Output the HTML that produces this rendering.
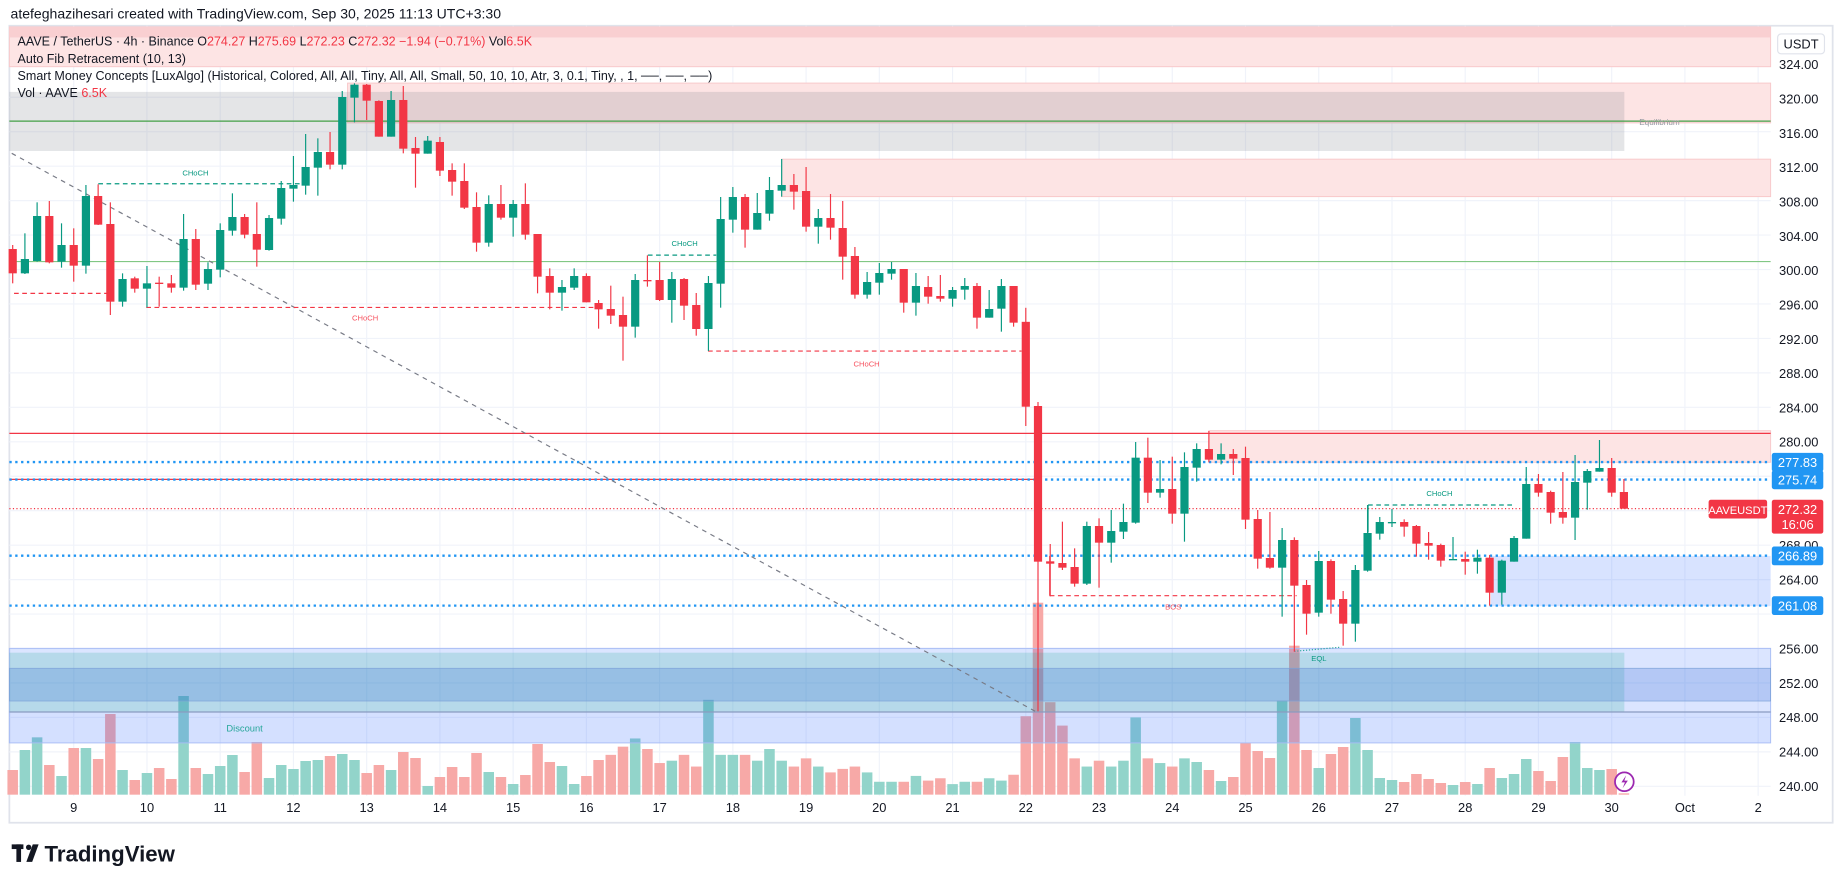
<!DOCTYPE html>
<html><head><meta charset="utf-8"><style>
html,body{margin:0;padding:0;background:#fff;}
svg{display:block;font-family:"Liberation Sans",sans-serif;}
.r line{stroke:#f23645;stroke-width:1}.r rect{fill:#f23645}
.g line{stroke:#089981;stroke-width:1}.g rect{fill:#089981}
.vr{fill:#f7a9a7}.vg{fill:#92d4ca}
</style></head><body>
<svg width="1835" height="883" viewBox="0 0 1568 754.5" preserveAspectRatio="none" xmlns="http://www.w3.org/2000/svg">
<rect x="0" y="0" width="1568" height="754.5" fill="#ffffff"/>
<text x="9" y="16" font-size="12" fill="#131722">atefeghazihesari created with TradingView.com, Sep 30, 2025 11:13 UTC+3:30</text>
<rect x="8" y="22" width="1558" height="681" fill="none" stroke="#e0e3eb" stroke-width="1.5"/>
<g stroke="#f0f3fa" stroke-width="1">
<line x1="8" y1="53.66" x2="1513" y2="53.66"/><line x1="8" y1="83.1" x2="1513" y2="83.1"/><line x1="8" y1="112.54" x2="1513" y2="112.54"/><line x1="8" y1="141.98" x2="1513" y2="141.98"/><line x1="8" y1="171.42" x2="1513" y2="171.42"/><line x1="8" y1="200.86" x2="1513" y2="200.86"/><line x1="8" y1="230.3" x2="1513" y2="230.3"/><line x1="8" y1="259.74" x2="1513" y2="259.74"/><line x1="8" y1="289.18" x2="1513" y2="289.18"/><line x1="8" y1="318.62" x2="1513" y2="318.62"/><line x1="8" y1="348.06" x2="1513" y2="348.06"/><line x1="8" y1="377.5" x2="1513" y2="377.5"/><line x1="8" y1="406.94" x2="1513" y2="406.94"/><line x1="8" y1="436.38" x2="1513" y2="436.38"/><line x1="8" y1="465.82" x2="1513" y2="465.82"/><line x1="8" y1="495.26" x2="1513" y2="495.26"/><line x1="8" y1="524.7" x2="1513" y2="524.7"/><line x1="8" y1="554.14" x2="1513" y2="554.14"/><line x1="8" y1="583.58" x2="1513" y2="583.58"/><line x1="8" y1="613.02" x2="1513" y2="613.02"/><line x1="8" y1="642.46" x2="1513" y2="642.46"/><line x1="8" y1="671.9" x2="1513" y2="671.9"/>
<line x1="63" y1="22" x2="63" y2="680"/><line x1="125.58" y1="22" x2="125.58" y2="680"/><line x1="188.16" y1="22" x2="188.16" y2="680"/><line x1="250.74" y1="22" x2="250.74" y2="680"/><line x1="313.32" y1="22" x2="313.32" y2="680"/><line x1="375.9" y1="22" x2="375.9" y2="680"/><line x1="438.48" y1="22" x2="438.48" y2="680"/><line x1="501.06" y1="22" x2="501.06" y2="680"/><line x1="563.64" y1="22" x2="563.64" y2="680"/><line x1="626.22" y1="22" x2="626.22" y2="680"/><line x1="688.8" y1="22" x2="688.8" y2="680"/><line x1="751.38" y1="22" x2="751.38" y2="680"/><line x1="813.96" y1="22" x2="813.96" y2="680"/><line x1="876.54" y1="22" x2="876.54" y2="680"/><line x1="939.12" y1="22" x2="939.12" y2="680"/><line x1="1001.7" y1="22" x2="1001.7" y2="680"/><line x1="1064.28" y1="22" x2="1064.28" y2="680"/><line x1="1126.86" y1="22" x2="1126.86" y2="680"/><line x1="1189.44" y1="22" x2="1189.44" y2="680"/><line x1="1252.02" y1="22" x2="1252.02" y2="680"/><line x1="1314.6" y1="22" x2="1314.6" y2="680"/><line x1="1377.18" y1="22" x2="1377.18" y2="680"/><line x1="1439.76" y1="22" x2="1439.76" y2="680"/><line x1="1502.34" y1="22" x2="1502.34" y2="680"/>
</g>
<rect x="8" y="23" width="1505" height="34" fill="#fde4e4" stroke="#f8c7c9" stroke-width="0.8"/>
<rect x="8" y="23" width="1505" height="9" fill="#f9cfd1"/>
<rect x="297" y="71" width="1216" height="34" fill="#fde4e4" stroke="#f8c7c9" stroke-width="0.8"/>
<rect x="8" y="78.5" width="1380" height="50.5" fill="rgba(120,123,134,0.2)"/>
<rect x="668" y="136" width="845" height="32" fill="#fde4e4" stroke="#f8c7c9" stroke-width="0.8"/>
<line x1="8" y1="103.5" x2="1513" y2="103.5" stroke="#43a047" stroke-width="1"/>
<line x1="8" y1="223.5" x2="1513" y2="223.5" stroke="#81c784" stroke-width="1"/>
<text x="1418" y="107" font-size="7" fill="#9598a1" text-anchor="middle">Equilibrium</text>
<!-- volume -->
<g>
<g transform="translate(10.85,538.32) scale(1,.28483)"><rect class="vr" x="-4.5" y="420" width="9" height="74"/></g>
<g transform="translate(21.28,538.32) scale(1,.28483)"><rect class="vg" x="-4.5" y="360" width="9" height="134"/></g>
<g transform="translate(31.71,538.32) scale(1,.28483)"><rect class="vg" x="-4.5" y="322" width="9" height="172"/></g>
<g transform="translate(42.14,538.32) scale(1,.28483)"><rect class="vr" x="-4.5" y="405" width="9" height="89"/></g>
<g transform="translate(52.57,538.32) scale(1,.28483)"><rect class="vg" x="-4.5" y="438" width="9" height="56"/></g>
<g transform="translate(63,538.32) scale(1,.28483)"><rect class="vr" x="-4.5" y="354" width="9" height="140"/></g>
<g transform="translate(73.43,538.32) scale(1,.28483)"><rect class="vg" x="-4.5" y="354" width="9" height="140"/></g>
<g transform="translate(83.86,538.32) scale(1,.28483)"><rect class="vr" x="-4.5" y="387" width="9" height="107"/></g>
<g transform="translate(94.29,538.32) scale(1,.28483)"><rect class="vr" x="-4.5" y="252" width="9" height="242"/></g>
<g transform="translate(104.72,538.32) scale(1,.28483)"><rect class="vg" x="-4.5" y="420" width="9" height="74"/></g>
<g transform="translate(115.15,538.32) scale(1,.28483)"><rect class="vr" x="-4.5" y="450" width="9" height="44"/></g>
<g transform="translate(125.58,538.32) scale(1,.28483)"><rect class="vg" x="-4.5" y="429" width="9" height="65"/></g>
<g transform="translate(136.01,538.32) scale(1,.28483)"><rect class="vr" x="-4.5" y="414" width="9" height="80"/></g>
<g transform="translate(146.44,538.32) scale(1,.28483)"><rect class="vr" x="-4.5" y="447" width="9" height="47"/></g>
<g transform="translate(156.87,538.32) scale(1,.28483)"><rect class="vg" x="-4.5" y="198" width="9" height="296"/></g>
<g transform="translate(167.3,538.32) scale(1,.28483)"><rect class="vr" x="-4.5" y="414" width="9" height="80"/></g>
<g transform="translate(177.73,538.32) scale(1,.28483)"><rect class="vg" x="-4.5" y="432" width="9" height="62"/></g>
<g transform="translate(188.16,538.32) scale(1,.28483)"><rect class="vg" x="-4.5" y="408" width="9" height="86"/></g>
<g transform="translate(198.59,538.32) scale(1,.28483)"><rect class="vg" x="-4.5" y="375" width="9" height="119"/></g>
<g transform="translate(209.02,538.32) scale(1,.28483)"><rect class="vr" x="-4.5" y="426" width="9" height="68"/></g>
<g transform="translate(219.45,538.32) scale(1,.28483)"><rect class="vr" x="-4.5" y="336" width="9" height="158"/></g>
<g transform="translate(229.88,538.32) scale(1,.28483)"><rect class="vg" x="-4.5" y="444" width="9" height="50"/></g>
<g transform="translate(240.31,538.32) scale(1,.28483)"><rect class="vg" x="-4.5" y="405" width="9" height="89"/></g>
<g transform="translate(250.74,538.32) scale(1,.28483)"><rect class="vg" x="-4.5" y="417" width="9" height="77"/></g>
<g transform="translate(261.17,538.32) scale(1,.28483)"><rect class="vg" x="-4.5" y="393" width="9" height="101"/></g>
<g transform="translate(271.6,538.32) scale(1,.28483)"><rect class="vg" x="-4.5" y="390" width="9" height="104"/></g>
<g transform="translate(282.03,538.32) scale(1,.28483)"><rect class="vr" x="-4.5" y="378" width="9" height="116"/></g>
<g transform="translate(292.46,538.32) scale(1,.28483)"><rect class="vg" x="-4.5" y="372" width="9" height="122"/></g>
<g transform="translate(302.89,538.32) scale(1,.28483)"><rect class="vg" x="-4.5" y="390" width="9" height="104"/></g>
<g transform="translate(313.32,538.32) scale(1,.28483)"><rect class="vr" x="-4.5" y="429" width="9" height="65"/></g>
<g transform="translate(323.75,538.32) scale(1,.28483)"><rect class="vr" x="-4.5" y="405" width="9" height="89"/></g>
<g transform="translate(334.18,538.32) scale(1,.28483)"><rect class="vg" x="-4.5" y="420" width="9" height="74"/></g>
<g transform="translate(344.61,538.32) scale(1,.28483)"><rect class="vr" x="-4.5" y="366" width="9" height="128"/></g>
<g transform="translate(355.04,538.32) scale(1,.28483)"><rect class="vr" x="-4.5" y="384" width="9" height="110"/></g>
<g transform="translate(365.47,538.32) scale(1,.28483)"><rect class="vg" x="-4.5" y="468" width="9" height="26"/></g>
<g transform="translate(375.9,538.32) scale(1,.28483)"><rect class="vr" x="-4.5" y="441" width="9" height="53"/></g>
<g transform="translate(386.33,538.32) scale(1,.28483)"><rect class="vr" x="-4.5" y="411" width="9" height="83"/></g>
<g transform="translate(396.76,538.32) scale(1,.28483)"><rect class="vr" x="-4.5" y="441" width="9" height="53"/></g>
<g transform="translate(407.19,538.32) scale(1,.28483)"><rect class="vr" x="-4.5" y="369" width="9" height="125"/></g>
<g transform="translate(417.62,538.32) scale(1,.28483)"><rect class="vg" x="-4.5" y="426" width="9" height="68"/></g>
<g transform="translate(428.05,538.32) scale(1,.28483)"><rect class="vr" x="-4.5" y="441" width="9" height="53"/></g>
<g transform="translate(438.48,538.32) scale(1,.28483)"><rect class="vg" x="-4.5" y="462" width="9" height="32"/></g>
<g transform="translate(448.91,538.32) scale(1,.28483)"><rect class="vr" x="-4.5" y="435" width="9" height="59"/></g>
<g transform="translate(459.34,538.32) scale(1,.28483)"><rect class="vr" x="-4.5" y="342" width="9" height="152"/></g>
<g transform="translate(469.77,538.32) scale(1,.28483)"><rect class="vr" x="-4.5" y="396" width="9" height="98"/></g>
<g transform="translate(480.2,538.32) scale(1,.28483)"><rect class="vg" x="-4.5" y="408" width="9" height="86"/></g>
<g transform="translate(490.63,538.32) scale(1,.28483)"><rect class="vg" x="-4.5" y="462" width="9" height="32"/></g>
<g transform="translate(501.06,538.32) scale(1,.28483)"><rect class="vr" x="-4.5" y="438" width="9" height="56"/></g>
<g transform="translate(511.49,538.32) scale(1,.28483)"><rect class="vr" x="-4.5" y="390" width="9" height="104"/></g>
<rect class="vr" x="517.42" y="645" width="9" height="34"/>
<rect class="vr" x="527.85" y="638" width="9" height="41"/>
<rect class="vg" x="538.28" y="631" width="9" height="48"/>
<rect class="vr" x="548.71" y="640" width="9" height="39"/>
<rect class="vr" x="559.14" y="652" width="9" height="27"/>
<rect class="vg" x="569.57" y="650" width="9" height="29"/>
<rect class="vr" x="580" y="645" width="9" height="34"/>
<rect class="vr" x="590.43" y="655" width="9" height="24"/>
<rect class="vg" x="600.86" y="598" width="9" height="81"/>
<rect class="vg" x="611.29" y="645" width="9" height="34"/>
<rect class="vg" x="621.72" y="645" width="9" height="34"/>
<rect class="vr" x="632.15" y="645" width="9" height="34"/>
<rect class="vg" x="642.58" y="650" width="9" height="29"/>
<rect class="vg" x="653.01" y="640" width="9" height="39"/>
<rect class="vg" x="663.44" y="650" width="9" height="29"/>
<rect class="vr" x="673.87" y="655" width="9" height="24"/>
<rect class="vr" x="684.3" y="648" width="9" height="31"/>
<rect class="vg" x="694.73" y="655" width="9" height="24"/>
<rect class="vr" x="705.16" y="660" width="9" height="19"/>
<rect class="vr" x="715.59" y="657" width="9" height="22"/>
<rect class="vr" x="726.02" y="655" width="9" height="24"/>
<rect class="vg" x="736.45" y="660" width="9" height="19"/>
<rect class="vg" x="746.88" y="668" width="9" height="11"/>
<rect class="vg" x="757.31" y="668" width="9" height="11"/>
<rect class="vr" x="767.74" y="668" width="9" height="11"/>
<rect class="vg" x="778.17" y="663" width="9" height="16"/>
<rect class="vr" x="788.6" y="667" width="9" height="12"/>
<rect class="vr" x="799.03" y="665" width="9" height="14"/>
<rect class="vg" x="809.46" y="670" width="9" height="9"/>
<rect class="vg" x="819.89" y="668" width="9" height="11"/>
<rect class="vr" x="830.32" y="668" width="9" height="11"/>
<rect class="vg" x="840.75" y="665" width="9" height="14"/>
<rect class="vg" x="851.18" y="667" width="9" height="12"/>
<rect class="vr" x="861.61" y="662" width="9" height="17"/>
<rect class="vr" x="872.04" y="612" width="9" height="67"/>
<rect class="vr" x="882.47" y="515" width="9" height="164"/>
<rect class="vr" x="892.9" y="600" width="9" height="79"/>
<rect class="vr" x="903.33" y="620" width="9" height="59"/>
<rect class="vr" x="913.76" y="648" width="9" height="31"/>
<rect class="vg" x="924.19" y="655" width="9" height="24"/>
<rect class="vr" x="934.62" y="650" width="9" height="29"/>
<rect class="vg" x="945.05" y="655" width="9" height="24"/>
<rect class="vg" x="955.48" y="650" width="9" height="29"/>
<rect class="vg" x="965.91" y="613" width="9" height="66"/>
<rect class="vr" x="976.34" y="648" width="9" height="31"/>
<rect class="vg" x="986.77" y="652" width="9" height="27"/>
<rect class="vr" x="997.2" y="655" width="9" height="24"/>
<rect class="vg" x="1007.63" y="648" width="9" height="31"/>
<g transform="translate(1022.56,538.32) scale(1,.28483)"><rect class="vg" x="-4.5" y="396" width="9" height="98"/></g>
<g transform="translate(1032.99,538.32) scale(1,.28483)"><rect class="vr" x="-4.5" y="420" width="9" height="74"/></g>
<g transform="translate(1043.42,538.32) scale(1,.28483)"><rect class="vg" x="-4.5" y="453" width="9" height="41"/></g>
<g transform="translate(1053.85,538.32) scale(1,.28483)"><rect class="vr" x="-4.5" y="441" width="9" height="53"/></g>
<g transform="translate(1064.28,538.32) scale(1,.28483)"><rect class="vr" x="-4.5" y="338" width="9" height="156"/></g>
<g transform="translate(1074.71,538.32) scale(1,.28483)"><rect class="vr" x="-4.5" y="363" width="9" height="131"/></g>
<g transform="translate(1085.14,538.32) scale(1,.28483)"><rect class="vr" x="-4.5" y="384" width="9" height="110"/></g>
<g transform="translate(1095.57,538.32) scale(1,.28483)"><rect class="vg" x="-4.5" y="212" width="9" height="282"/></g>
<g transform="translate(1106,538.32) scale(1,.28483)"><rect class="vr" x="-4.5" y="47" width="9" height="447"/></g>
<g transform="translate(1116.43,538.32) scale(1,.28483)"><rect class="vr" x="-4.5" y="360" width="9" height="134"/></g>
<g transform="translate(1126.86,538.32) scale(1,.28483)"><rect class="vg" x="-4.5" y="414" width="9" height="80"/></g>
<g transform="translate(1137.29,538.32) scale(1,.28483)"><rect class="vr" x="-4.5" y="372" width="9" height="122"/></g>
<g transform="translate(1147.72,538.32) scale(1,.28483)"><rect class="vr" x="-4.5" y="351" width="9" height="143"/></g>
<g transform="translate(1158.15,538.32) scale(1,.28483)"><rect class="vg" x="-4.5" y="264" width="9" height="230"/></g>
<g transform="translate(1168.58,538.32) scale(1,.28483)"><rect class="vg" x="-4.5" y="360" width="9" height="134"/></g>
<g transform="translate(1179.01,538.32) scale(1,.28483)"><rect class="vg" x="-4.5" y="444" width="9" height="50"/></g>
<g transform="translate(1189.44,538.32) scale(1,.28483)"><rect class="vg" x="-4.5" y="450" width="9" height="44"/></g>
<g transform="translate(1199.87,538.32) scale(1,.28483)"><rect class="vr" x="-4.5" y="456" width="9" height="38"/></g>
<g transform="translate(1210.3,538.32) scale(1,.28483)"><rect class="vr" x="-4.5" y="432" width="9" height="62"/></g>
<g transform="translate(1220.73,538.32) scale(1,.28483)"><rect class="vr" x="-4.5" y="447" width="9" height="47"/></g>
<g transform="translate(1231.16,538.32) scale(1,.28483)"><rect class="vr" x="-4.5" y="459" width="9" height="35"/></g>
<g transform="translate(1241.59,538.32) scale(1,.28483)"><rect class="vg" x="-4.5" y="465" width="9" height="29"/></g>
<g transform="translate(1252.02,538.32) scale(1,.28483)"><rect class="vr" x="-4.5" y="456" width="9" height="38"/></g>
<g transform="translate(1262.45,538.32) scale(1,.28483)"><rect class="vg" x="-4.5" y="462" width="9" height="32"/></g>
<g transform="translate(1272.88,538.32) scale(1,.28483)"><rect class="vr" x="-4.5" y="414" width="9" height="80"/></g>
<g transform="translate(1283.31,538.32) scale(1,.28483)"><rect class="vg" x="-4.5" y="444" width="9" height="50"/></g>
<g transform="translate(1293.74,538.32) scale(1,.28483)"><rect class="vg" x="-4.5" y="432" width="9" height="62"/></g>
<g transform="translate(1304.17,538.32) scale(1,.28483)"><rect class="vg" x="-4.5" y="387" width="9" height="107"/></g>
<g transform="translate(1314.6,538.32) scale(1,.28483)"><rect class="vr" x="-4.5" y="423" width="9" height="71"/></g>
<g transform="translate(1325.03,538.32) scale(1,.28483)"><rect class="vr" x="-4.5" y="453" width="9" height="41"/></g>
<g transform="translate(1335.46,538.32) scale(1,.28483)"><rect class="vr" x="-4.5" y="381" width="9" height="113"/></g>
<g transform="translate(1345.89,538.32) scale(1,.28483)"><rect class="vg" x="-4.5" y="336" width="9" height="158"/></g>
<g transform="translate(1356.32,538.32) scale(1,.28483)"><rect class="vg" x="-4.5" y="414" width="9" height="80"/></g>
<g transform="translate(1366.75,538.32) scale(1,.28483)"><rect class="vg" x="-4.5" y="420" width="9" height="74"/></g>
<g transform="translate(1377.18,538.32) scale(1,.28483)"><rect class="vr" x="-4.5" y="417" width="9" height="77"/></g>
<g transform="translate(1387.61,538.32) scale(1,.28483)"><rect class="vr" x="-4.5" y="490" width="9" height="4"/></g>
</g>
<!-- bottom zones -->
<rect x="8" y="554" width="1505" height="54.4" fill="rgba(41,98,255,0.17)" stroke="#a8bdf5" stroke-width="0.8"/>
<rect x="8" y="557.7" width="1380" height="50.7" fill="rgba(34,171,148,0.2)"/>
<rect x="8" y="571" width="1505" height="28" fill="rgba(41,98,210,0.22)" stroke="#7ea3d8" stroke-width="0.6"/>
<rect x="8" y="608.4" width="1505" height="26.4" fill="rgba(41,98,255,0.2)" stroke="#a8bdf5" stroke-width="0.8"/>
<line x1="8" y1="608.4" x2="1513" y2="608.4" stroke="#8a9bc0" stroke-width="1"/>
<text x="209" y="625" font-size="8" fill="#26a69a" text-anchor="middle">Discount</text>
<rect x="1033" y="368" width="480" height="27" fill="#fde4e4" stroke="#f8c7c9" stroke-width="0.8"/>
<line x1="8" y1="370.3" x2="1513" y2="370.3" stroke="#f23645" stroke-width="1"/>
<line x1="8" y1="409.6" x2="890" y2="409.6" stroke="#f23645" stroke-width="1"/>
<rect x="1274" y="475" width="239" height="43" fill="rgba(41,98,255,0.18)"/>
<g stroke="#2196f3" stroke-width="2" stroke-dasharray="2 3">
<line x1="8" y1="394.8" x2="1513" y2="394.8"/>
<line x1="8" y1="409.8" x2="1513" y2="409.8"/>
<line x1="8" y1="474.8" x2="1513" y2="474.8"/>
<line x1="8" y1="517.5" x2="1513" y2="517.5"/>
</g>
<line x1="8" y1="434.6" x2="1460" y2="434.6" stroke="#f23645" stroke-width="1" stroke-dasharray="1 2"/>
<line x1="10" y1="131" x2="885" y2="608" stroke="#787b86" stroke-width="1" stroke-dasharray="4 4"/>
<g fill="none" stroke-width="1" stroke-dasharray="4 3">
<polyline points="84,157 257,157" stroke="#089981"/>
<polyline points="12,250.7 91,250.7" stroke="#f23645"/>
<polyline points="125,262.7 510,262.7" stroke="#f23645"/>
<polyline points="553.6,218 612,218" stroke="#089981"/>
<polyline points="605,300 873,300" stroke="#f23645"/>
<polyline points="897,509 1108,509" stroke="#f23645"/>
<polyline points="1169,431.5 1295,431.5" stroke="#089981"/>
<polyline points="1106,556.5 1146,553" stroke="#26a69a" stroke-dasharray="1 1.5"/>
</g>
<g font-size="6.5" text-anchor="middle">
<text x="167" y="150" fill="#089981">CHoCH</text>
<text x="312" y="274" fill="#f7525f">CHoCH</text>
<text x="585" y="210" fill="#089981">CHoCH</text>
<text x="740.5" y="313" fill="#f7525f">CHoCH</text>
<text x="1002.5" y="521" fill="#f7525f">BOS</text>
<text x="1230" y="424" fill="#089981">CHoCH</text>
<text x="1127" y="565" fill="#089981">EQL</text>
</g>
<!-- candles -->
<g>
<g class="r" transform="translate(10.85,59.81) scale(1,.28483)"><line y1="525" y2="640"/><rect x="-3.5" y="537" width="7" height="73"/></g>
<g class="g" transform="translate(21.28,59.81) scale(1,.28483)"><line y1="490" y2="612"/><rect x="-3.5" y="567" width="7" height="43"/></g>
<g class="g" transform="translate(31.71,59.81) scale(1,.28483)"><line y1="397" y2="575"/><rect x="-3.5" y="438" width="7" height="135"/></g>
<g class="r" transform="translate(42.14,59.81) scale(1,.28483)"><line y1="393" y2="580"/><rect x="-3.5" y="438" width="7" height="139"/></g>
<g class="g" transform="translate(52.57,59.81) scale(1,.28483)"><line y1="460" y2="593"/><rect x="-3.5" y="525" width="7" height="50"/></g>
<g class="r" transform="translate(63,59.81) scale(1,.28483)"><line y1="475" y2="635"/><rect x="-3.5" y="525" width="7" height="62"/></g>
<g class="g" transform="translate(73.43,59.81) scale(1,.28483)"><line y1="345" y2="611"/><rect x="-3.5" y="378" width="7" height="209"/></g>
<g class="r" transform="translate(83.86,59.81) scale(1,.28483)"><line y1="343" y2="465"/><rect x="-3.5" y="378" width="7" height="86"/></g>
<g class="r" transform="translate(94.29,59.81) scale(1,.28483)"><line y1="397" y2="735"/><rect x="-3.5" y="462" width="7" height="233"/></g>
<g class="g" transform="translate(104.72,59.81) scale(1,.28483)"><line y1="610" y2="710"/><rect x="-3.5" y="627" width="7" height="68"/></g>
<g class="r" transform="translate(115.15,59.81) scale(1,.28483)"><line y1="620" y2="668"/><rect x="-3.5" y="625" width="7" height="31"/></g>
<g class="g" transform="translate(125.58,59.81) scale(1,.28483)"><line y1="588" y2="712"/><rect x="-3.5" y="640" width="7" height="16"/></g>
<g class="r" transform="translate(136.01,59.81) scale(1,.28483)"><line y1="620" y2="710"/><rect x="-3.5" y="638" width="7" height="4"/></g>
<g class="r" transform="translate(146.44,59.81) scale(1,.28483)"><line y1="615" y2="668"/><rect x="-3.5" y="640" width="7" height="13"/></g>
<g class="g" transform="translate(156.87,59.81) scale(1,.28483)"><line y1="432" y2="662"/><rect x="-3.5" y="507" width="7" height="146"/></g>
<g class="r" transform="translate(167.3,59.81) scale(1,.28483)"><line y1="477" y2="660"/><rect x="-3.5" y="507" width="7" height="137"/></g>
<g class="g" transform="translate(177.73,59.81) scale(1,.28483)"><line y1="577" y2="660"/><rect x="-3.5" y="597" width="7" height="44"/></g>
<g class="g" transform="translate(188.16,59.81) scale(1,.28483)"><line y1="460" y2="622"/><rect x="-3.5" y="480" width="7" height="119"/></g>
<g class="g" transform="translate(198.59,59.81) scale(1,.28483)"><line y1="370" y2="497"/><rect x="-3.5" y="441" width="7" height="41"/></g>
<g class="r" transform="translate(209.02,59.81) scale(1,.28483)"><line y1="432" y2="505"/><rect x="-3.5" y="441" width="7" height="53"/></g>
<g class="r" transform="translate(219.45,59.81) scale(1,.28483)"><line y1="397" y2="590"/><rect x="-3.5" y="492" width="7" height="47"/></g>
<g class="g" transform="translate(229.88,59.81) scale(1,.28483)"><line y1="435" y2="542"/><rect x="-3.5" y="444" width="7" height="96"/></g>
<g class="g" transform="translate(240.31,59.81) scale(1,.28483)"><line y1="333" y2="464"/><rect x="-3.5" y="354" width="7" height="92"/></g>
<g class="g" transform="translate(250.74,59.81) scale(1,.28483)"><line y1="258" y2="395"/><rect x="-3.5" y="345" width="7" height="11"/></g>
<g class="g" transform="translate(261.17,59.81) scale(1,.28483)"><line y1="192" y2="374"/><rect x="-3.5" y="291" width="7" height="56"/></g>
<g class="g" transform="translate(271.6,59.81) scale(1,.28483)"><line y1="205" y2="377"/><rect x="-3.5" y="246" width="7" height="47"/></g>
<g class="r" transform="translate(282.03,59.81) scale(1,.28483)"><line y1="186" y2="298"/><rect x="-3.5" y="246" width="7" height="38"/></g>
<g class="g" transform="translate(292.46,59.81) scale(1,.28483)"><line y1="63" y2="298"/><rect x="-3.5" y="81" width="7" height="203"/></g>
<g class="g" transform="translate(302.89,59.81) scale(1,.28483)"><line y1="40" y2="157"/><rect x="-3.5" y="44" width="7" height="39"/></g>
<g class="r" transform="translate(313.32,59.81) scale(1,.28483)"><line y1="42" y2="150"/><rect x="-3.5" y="44" width="7" height="48"/></g>
<g class="r" transform="translate(323.75,59.81) scale(1,.28483)"><line y1="91" y2="200"/><rect x="-3.5" y="93" width="7" height="107"/></g>
<g class="g" transform="translate(334.18,59.81) scale(1,.28483)"><line y1="63" y2="200"/><rect x="-3.5" y="90" width="7" height="110"/></g>
<g class="r" transform="translate(344.61,59.81) scale(1,.28483)"><line y1="48" y2="250"/><rect x="-3.5" y="90" width="7" height="146"/></g>
<g class="r" transform="translate(355.04,59.81) scale(1,.28483)"><line y1="201" y2="353"/><rect x="-3.5" y="234" width="7" height="17"/></g>
<g class="g" transform="translate(365.47,59.81) scale(1,.28483)"><line y1="198" y2="251"/><rect x="-3.5" y="212" width="7" height="39"/></g>
<g class="r" transform="translate(375.9,59.81) scale(1,.28483)"><line y1="201" y2="318"/><rect x="-3.5" y="216" width="7" height="86"/></g>
<g class="r" transform="translate(386.33,59.81) scale(1,.28483)"><line y1="280" y2="377"/><rect x="-3.5" y="300" width="7" height="35"/></g>
<g class="r" transform="translate(396.76,59.81) scale(1,.28483)"><line y1="280" y2="417"/><rect x="-3.5" y="333" width="7" height="80"/></g>
<g class="r" transform="translate(407.19,59.81) scale(1,.28483)"><line y1="367" y2="545"/><rect x="-3.5" y="411" width="7" height="107"/></g>
<g class="g" transform="translate(417.62,59.81) scale(1,.28483)"><line y1="376" y2="530"/><rect x="-3.5" y="402" width="7" height="116"/></g>
<g class="r" transform="translate(428.05,59.81) scale(1,.28483)"><line y1="345" y2="449"/><rect x="-3.5" y="402" width="7" height="41"/></g>
<g class="g" transform="translate(438.48,59.81) scale(1,.28483)"><line y1="390" y2="500"/><rect x="-3.5" y="402" width="7" height="41"/></g>
<g class="r" transform="translate(448.91,59.81) scale(1,.28483)"><line y1="340" y2="509"/><rect x="-3.5" y="402" width="7" height="92"/></g>
<g class="r" transform="translate(459.34,59.81) scale(1,.28483)"><line y1="492" y2="670"/><rect x="-3.5" y="492" width="7" height="128"/></g>
<g class="r" transform="translate(469.77,59.81) scale(1,.28483)"><line y1="595" y2="718"/><rect x="-3.5" y="618" width="7" height="50"/></g>
<g class="g" transform="translate(480.2,59.81) scale(1,.28483)"><line y1="630" y2="722"/><rect x="-3.5" y="651" width="7" height="17"/></g>
<g class="g" transform="translate(490.63,59.81) scale(1,.28483)"><line y1="595" y2="660"/><rect x="-3.5" y="618" width="7" height="35"/></g>
<g class="r" transform="translate(501.06,59.81) scale(1,.28483)"><line y1="610" y2="697"/><rect x="-3.5" y="618" width="7" height="79"/></g>
<g class="r" transform="translate(511.49,59.81) scale(1,.28483)"><line y1="690" y2="776"/><rect x="-3.5" y="699" width="7" height="19"/></g>
<g class="r" transform="translate(521.92,111.08) scale(1,.28483)"><line y1="467" y2="582"/><rect x="-3.5" y="537" width="7" height="20"/></g>
<g class="r" transform="translate(532.35,111.08) scale(1,.28483)"><line y1="500" y2="692"/><rect x="-3.5" y="555" width="7" height="35"/></g>
<g class="g" transform="translate(542.78,111.08) scale(1,.28483)"><line y1="432" y2="623"/><rect x="-3.5" y="450" width="7" height="140"/></g>
<g class="r" transform="translate(553.21,111.08) scale(1,.28483)"><line y1="376" y2="470"/><rect x="-3.5" y="450" width="7" height="4"/></g>
<g class="r" transform="translate(563.64,111.08) scale(1,.28483)"><line y1="396" y2="513"/><rect x="-3.5" y="450" width="7" height="60"/></g>
<g class="g" transform="translate(574.07,111.08) scale(1,.28483)"><line y1="426" y2="578"/><rect x="-3.5" y="447" width="7" height="63"/></g>
<g class="r" transform="translate(584.5,111.08) scale(1,.28483)"><line y1="444" y2="570"/><rect x="-3.5" y="447" width="7" height="80"/></g>
<g class="r" transform="translate(594.93,111.08) scale(1,.28483)"><line y1="489" y2="617"/><rect x="-3.5" y="525" width="7" height="72"/></g>
<g class="g" transform="translate(605.36,111.08) scale(1,.28483)"><line y1="438" y2="663"/><rect x="-3.5" y="459" width="7" height="138"/></g>
<g class="g" transform="translate(615.79,111.08) scale(1,.28483)"><line y1="201" y2="533"/><rect x="-3.5" y="267" width="7" height="194"/></g>
<g class="g" transform="translate(626.22,111.08) scale(1,.28483)"><line y1="171" y2="308"/><rect x="-3.5" y="201" width="7" height="68"/></g>
<g class="r" transform="translate(636.65,111.08) scale(1,.28483)"><line y1="192" y2="353"/><rect x="-3.5" y="201" width="7" height="98"/></g>
<g class="g" transform="translate(647.08,111.08) scale(1,.28483)"><line y1="189" y2="299"/><rect x="-3.5" y="249" width="7" height="50"/></g>
<g class="g" transform="translate(657.51,111.08) scale(1,.28483)"><line y1="141" y2="272"/><rect x="-3.5" y="180" width="7" height="71"/></g>
<g class="g" transform="translate(667.94,111.08) scale(1,.28483)"><line y1="87" y2="200"/><rect x="-3.5" y="165" width="7" height="17"/></g>
<g class="r" transform="translate(678.37,111.08) scale(1,.28483)"><line y1="132" y2="239"/><rect x="-3.5" y="165" width="7" height="20"/></g>
<g class="r" transform="translate(688.8,111.08) scale(1,.28483)"><line y1="111" y2="305"/><rect x="-3.5" y="183" width="7" height="107"/></g>
<g class="g" transform="translate(699.23,111.08) scale(1,.28483)"><line y1="237" y2="341"/><rect x="-3.5" y="264" width="7" height="26"/></g>
<g class="r" transform="translate(709.66,111.08) scale(1,.28483)"><line y1="192" y2="329"/><rect x="-3.5" y="264" width="7" height="29"/></g>
<g class="r" transform="translate(720.09,111.08) scale(1,.28483)"><line y1="213" y2="449"/><rect x="-3.5" y="294" width="7" height="86"/></g>
<g class="r" transform="translate(730.52,111.08) scale(1,.28483)"><line y1="351" y2="506"/><rect x="-3.5" y="378" width="7" height="116"/></g>
<g class="g" transform="translate(740.95,111.08) scale(1,.28483)"><line y1="426" y2="506"/><rect x="-3.5" y="456" width="7" height="38"/></g>
<g class="g" transform="translate(751.38,111.08) scale(1,.28483)"><line y1="399" y2="494"/><rect x="-3.5" y="429" width="7" height="29"/></g>
<g class="g" transform="translate(761.81,111.08) scale(1,.28483)"><line y1="396" y2="449"/><rect x="-3.5" y="417" width="7" height="14"/></g>
<g class="r" transform="translate(772.24,111.08) scale(1,.28483)"><line y1="417" y2="548"/><rect x="-3.5" y="417" width="7" height="101"/></g>
<g class="g" transform="translate(782.67,111.08) scale(1,.28483)"><line y1="429" y2="557"/><rect x="-3.5" y="468" width="7" height="50"/></g>
<g class="r" transform="translate(793.1,111.08) scale(1,.28483)"><line y1="438" y2="521"/><rect x="-3.5" y="471" width="7" height="29"/></g>
<g class="r" transform="translate(803.53,111.08) scale(1,.28483)"><line y1="435" y2="515"/><rect x="-3.5" y="498" width="7" height="8"/></g>
<g class="g" transform="translate(813.96,111.08) scale(1,.28483)"><line y1="471" y2="530"/><rect x="-3.5" y="480" width="7" height="26"/></g>
<g class="g" transform="translate(824.39,111.08) scale(1,.28483)"><line y1="444" y2="509"/><rect x="-3.5" y="468" width="7" height="11"/></g>
<g class="r" transform="translate(834.82,111.08) scale(1,.28483)"><line y1="459" y2="596"/><rect x="-3.5" y="468" width="7" height="95"/></g>
<g class="g" transform="translate(845.25,111.08) scale(1,.28483)"><line y1="480" y2="563"/><rect x="-3.5" y="537" width="7" height="26"/></g>
<g class="g" transform="translate(855.68,111.08) scale(1,.28483)"><line y1="447" y2="605"/><rect x="-3.5" y="468" width="7" height="68"/></g>
<g class="r" transform="translate(866.11,111.08) scale(1,.28483)"><line y1="468" y2="590"/><rect x="-3.5" y="468" width="7" height="110"/></g>
<g class="r" transform="translate(876.54,0)"><line y1="263" y2="364"/><rect x="-3.5" y="275" width="7" height="72.5"/></g>
<g class="r" transform="translate(886.97,273.43) scale(1,.28483)"><line y1="246" y2="1174"/><rect x="-3.5" y="258" width="7" height="467"/></g>
<g class="r" transform="translate(897.4,273.43) scale(1,.28483)"><line y1="672" y2="829"/><rect x="-3.5" y="724" width="7" height="7"/></g>
<g class="r" transform="translate(907.83,273.43) scale(1,.28483)"><line y1="605" y2="750"/><rect x="-3.5" y="729" width="7" height="14"/></g>
<g class="r" transform="translate(918.26,273.43) scale(1,.28483)"><line y1="685" y2="800"/><rect x="-3.5" y="741" width="7" height="50"/></g>
<g class="g" transform="translate(928.69,273.43) scale(1,.28483)"><line y1="605" y2="795"/><rect x="-3.5" y="618" width="7" height="173"/></g>
<g class="r" transform="translate(939.12,273.43) scale(1,.28483)"><line y1="595" y2="803"/><rect x="-3.5" y="618" width="7" height="50"/></g>
<g class="g" transform="translate(949.55,273.43) scale(1,.28483)"><line y1="570" y2="728"/><rect x="-3.5" y="633" width="7" height="35"/></g>
<g class="g" transform="translate(959.98,273.43) scale(1,.28483)"><line y1="551" y2="657"/><rect x="-3.5" y="606" width="7" height="29"/></g>
<g class="g" transform="translate(970.41,273.43) scale(1,.28483)"><line y1="366" y2="611"/><rect x="-3.5" y="413" width="7" height="195"/></g>
<g class="r" transform="translate(980.84,273.43) scale(1,.28483)"><line y1="353" y2="549"/><rect x="-3.5" y="413" width="7" height="105"/></g>
<g class="g" transform="translate(991.27,273.43) scale(1,.28483)"><line y1="420" y2="533"/><rect x="-3.5" y="507" width="7" height="11"/></g>
<g class="r" transform="translate(1001.7,273.43) scale(1,.28483)"><line y1="410" y2="611"/><rect x="-3.5" y="507" width="7" height="74"/></g>
<g class="g" transform="translate(1012.13,273.43) scale(1,.28483)"><line y1="397" y2="665"/><rect x="-3.5" y="441" width="7" height="140"/></g>
<g class="g" transform="translate(1022.56,273.43) scale(1,.28483)"><line y1="370" y2="485"/><rect x="-3.5" y="387" width="7" height="56"/></g>
<g class="r" transform="translate(1032.99,273.43) scale(1,.28483)"><line y1="333" y2="427"/><rect x="-3.5" y="387" width="7" height="32"/></g>
<g class="g" transform="translate(1043.42,273.43) scale(1,.28483)"><line y1="370" y2="433"/><rect x="-3.5" y="402" width="7" height="17"/></g>
<g class="r" transform="translate(1053.85,273.43) scale(1,.28483)"><line y1="387" y2="465"/><rect x="-3.5" y="402" width="7" height="14"/></g>
<g class="r" transform="translate(1064.28,273.43) scale(1,.28483)"><line y1="380" y2="627"/><rect x="-3.5" y="414" width="7" height="185"/></g>
<g class="r" transform="translate(1074.71,273.43) scale(1,.28483)"><line y1="570" y2="746"/><rect x="-3.5" y="597" width="7" height="119"/></g>
<g class="r" transform="translate(1085.14,273.43) scale(1,.28483)"><line y1="576" y2="746"/><rect x="-3.5" y="714" width="7" height="29"/></g>
<g class="g" transform="translate(1095.57,273.43) scale(1,.28483)"><line y1="624" y2="890"/><rect x="-3.5" y="660" width="7" height="83"/></g>
<g class="r" transform="translate(1106,273.43) scale(1,.28483)"><line y1="652" y2="995"/><rect x="-3.5" y="660" width="7" height="137"/></g>
<g class="r" transform="translate(1116.43,273.43) scale(1,.28483)"><line y1="780" y2="944"/><rect x="-3.5" y="795" width="7" height="86"/></g>
<g class="g" transform="translate(1126.86,273.43) scale(1,.28483)"><line y1="693" y2="890"/><rect x="-3.5" y="723" width="7" height="155"/></g>
<g class="r" transform="translate(1137.29,273.43) scale(1,.28483)"><line y1="718" y2="881"/><rect x="-3.5" y="723" width="7" height="116"/></g>
<g class="r" transform="translate(1147.72,273.43) scale(1,.28483)"><line y1="813" y2="977"/><rect x="-3.5" y="837" width="7" height="74"/></g>
<g class="g" transform="translate(1158.15,273.43) scale(1,.28483)"><line y1="735" y2="965"/><rect x="-3.5" y="750" width="7" height="161"/></g>
<g class="g" transform="translate(1168.58,273.43) scale(1,.28483)"><line y1="555" y2="755"/><rect x="-3.5" y="639" width="7" height="113"/></g>
<g class="g" transform="translate(1179.01,273.43) scale(1,.28483)"><line y1="591" y2="659"/><rect x="-3.5" y="606" width="7" height="35"/></g>
<g class="g" transform="translate(1189.44,273.43) scale(1,.28483)"><line y1="567" y2="621"/><rect x="-3.5" y="606" width="7" height="4"/></g>
<g class="r" transform="translate(1199.87,273.43) scale(1,.28483)"><line y1="598" y2="650"/><rect x="-3.5" y="606" width="7" height="14"/></g>
<g class="r" transform="translate(1210.3,273.43) scale(1,.28483)"><line y1="615" y2="710"/><rect x="-3.5" y="618" width="7" height="53"/></g>
<g class="r" transform="translate(1220.73,273.43) scale(1,.28483)"><line y1="636" y2="719"/><rect x="-3.5" y="669" width="7" height="8"/></g>
<g class="r" transform="translate(1231.16,273.43) scale(1,.28483)"><line y1="671" y2="740"/><rect x="-3.5" y="675" width="7" height="47"/></g>
<g class="g" transform="translate(1241.59,273.43) scale(1,.28483)"><line y1="651" y2="719"/><rect x="-3.5" y="717" width="7" height="4"/></g>
<g class="r" transform="translate(1252.02,273.43) scale(1,.28483)"><line y1="695" y2="764"/><rect x="-3.5" y="717" width="7" height="8"/></g>
<g class="g" transform="translate(1262.45,273.43) scale(1,.28483)"><line y1="689" y2="761"/><rect x="-3.5" y="713" width="7" height="12"/></g>
<g class="r" transform="translate(1272.88,273.43) scale(1,.28483)"><line y1="705" y2="857"/><rect x="-3.5" y="713" width="7" height="105"/></g>
<g class="g" transform="translate(1283.31,273.43) scale(1,.28483)"><line y1="719" y2="854"/><rect x="-3.5" y="722" width="7" height="96"/></g>
<g class="g" transform="translate(1293.74,273.43) scale(1,.28483)"><line y1="648" y2="725"/><rect x="-3.5" y="654" width="7" height="71"/></g>
<g class="g" transform="translate(1304.17,273.43) scale(1,.28483)"><line y1="441" y2="656"/><rect x="-3.5" y="492" width="7" height="164"/></g>
<g class="r" transform="translate(1314.6,273.43) scale(1,.28483)"><line y1="462" y2="530"/><rect x="-3.5" y="492" width="7" height="26"/></g>
<g class="r" transform="translate(1325.03,273.43) scale(1,.28483)"><line y1="512" y2="611"/><rect x="-3.5" y="516" width="7" height="62"/></g>
<g class="r" transform="translate(1335.46,273.43) scale(1,.28483)"><line y1="456" y2="611"/><rect x="-3.5" y="576" width="7" height="17"/></g>
<g class="g" transform="translate(1345.89,273.43) scale(1,.28483)"><line y1="405" y2="660"/><rect x="-3.5" y="486" width="7" height="107"/></g>
<g class="g" transform="translate(1356.32,273.43) scale(1,.28483)"><line y1="447" y2="569"/><rect x="-3.5" y="453" width="7" height="35"/></g>
<g class="g" transform="translate(1366.75,273.43) scale(1,.28483)"><line y1="360" y2="455"/><rect x="-3.5" y="444" width="7" height="11"/></g>
<g class="r" transform="translate(1377.18,273.43) scale(1,.28483)"><line y1="414" y2="530"/><rect x="-3.5" y="444" width="7" height="74"/></g>
<g class="r" transform="translate(1387.61,273.43) scale(1,.28483)"><line y1="477" y2="566"/><rect x="-3.5" y="516" width="7" height="50"/></g>
</g>
<line x1="897" y1="475" x2="897" y2="509" stroke="#f23645" stroke-width="1"/>
<line x1="1169" y1="431.5" x2="1169" y2="455" stroke="#089981" stroke-width="1"/>
<!-- legend -->
<g font-size="10.7" fill="#131722">
<text x="15" y="39">AAVE / TetherUS · 4h · Binance  O<tspan fill="#f23645">274.27</tspan>  H<tspan fill="#f23645">275.69</tspan>  L<tspan fill="#f23645">272.23</tspan>  C<tspan fill="#f23645">272.32</tspan>  <tspan fill="#f23645">−1.94 (−0.71%)</tspan>  Vol<tspan fill="#f23645">6.5K</tspan></text>
<text x="15" y="54">Auto Fib Retracement (10, 13)</text>
<text x="15" y="68.5">Smart Money Concepts [LuxAlgo] (Historical, Colored, All, All, Tiny, All, All, Small, 50, 10, 10, Atr, 3, 0.1, Tiny, , 1, ──, ──, ──)</text>
<text x="15" y="83">Vol · AAVE  <tspan fill="#f23645">6.5K</tspan></text>
</g>
<!-- axis -->
<rect x="1519" y="29" width="40" height="17" rx="3" fill="#fff" stroke="#e0e3eb"/>
<text x="1539" y="41.5" font-size="11" fill="#131722" text-anchor="middle">USDT</text>
<g font-size="11" fill="#131722" text-anchor="middle">
<text x="1537" y="59">324.00</text><text x="1537" y="88.5">320.00</text><text x="1537" y="118">316.00</text><text x="1537" y="147">312.00</text><text x="1537" y="176.5">308.00</text><text x="1537" y="206">304.00</text><text x="1537" y="235">300.00</text><text x="1537" y="264.5">296.00</text><text x="1537" y="294">292.00</text><text x="1537" y="323">288.00</text><text x="1537" y="352.5">284.00</text><text x="1537" y="381.5">280.00</text><text x="1537" y="470">268.00</text><text x="1537" y="499.5">264.00</text><text x="1537" y="558.5">256.00</text><text x="1537" y="588">252.00</text><text x="1537" y="617">248.00</text><text x="1537" y="646.5">244.00</text><text x="1537" y="676">240.00</text>
</g>
<g font-size="11" fill="#fff" text-anchor="middle">
<rect x="1514" y="387" width="44" height="16" rx="2" fill="#2196f3"/><text x="1536" y="399">277.83</text>
<rect x="1514" y="402" width="44" height="16" rx="2" fill="#2196f3"/><text x="1536" y="414">275.74</text>
<rect x="1514" y="467" width="44" height="16" rx="2" fill="#2196f3"/><text x="1536" y="479">266.89</text>
<rect x="1514" y="509.5" width="44" height="16" rx="2" fill="#2196f3"/><text x="1536" y="521.5">261.08</text>
<rect x="1460" y="427" width="50" height="16" rx="2" fill="#f23645"/><text x="1485" y="439" font-size="9.5">AAVEUSDT</text>
<rect x="1514" y="427" width="44" height="29" rx="2" fill="#f23645"/><text x="1536" y="439">272.32</text><text x="1536" y="452">16:06</text>
</g>
<g font-size="11" fill="#131722" text-anchor="middle">
<text x="63" y="694">9</text><text x="125.58" y="694">10</text><text x="188.16" y="694">11</text><text x="250.74" y="694">12</text><text x="313.32" y="694">13</text><text x="375.9" y="694">14</text><text x="438.48" y="694">15</text><text x="501.06" y="694">16</text><text x="563.64" y="694">17</text><text x="626.22" y="694">18</text><text x="688.8" y="694">19</text><text x="751.38" y="694">20</text><text x="813.96" y="694">21</text><text x="876.54" y="694">22</text><text x="939.12" y="694">23</text><text x="1001.7" y="694">24</text><text x="1064.28" y="694">25</text><text x="1126.86" y="694">26</text><text x="1189.44" y="694">27</text><text x="1252.02" y="694">28</text><text x="1314.6" y="694">29</text><text x="1377.18" y="694">30</text><text x="1439.76" y="694">Oct</text><text x="1502.34" y="694">2</text>
</g>
<circle cx="1388" cy="668" r="8" fill="#fff" stroke="#9c27b0" stroke-width="1.5"/>
<path d="M1389.5,662.5 L1385.5,668.5 L1388.5,668.5 L1386.5,673.5 L1391,667 L1388,667 Z" fill="#9c27b0"/>
<g fill="#131722">
<rect x="10" y="721.5" width="10" height="4"/><rect x="14" y="721.5" width="4" height="15"/>
<circle cx="24.5" cy="724" r="2.3"/>
<polygon points="28,721.5 33,721.5 27.5,736.5 22.5,736.5"/>
<text x="38" y="736" font-size="19" font-weight="bold">TradingView</text>
</g>
</svg>
</body></html>
